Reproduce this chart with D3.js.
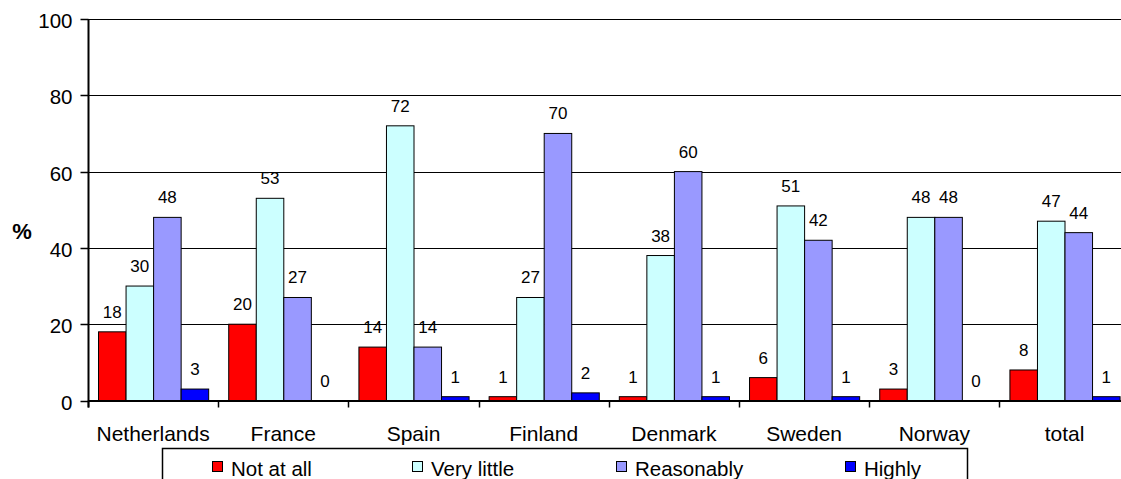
<!DOCTYPE html>
<html>
<head>
<meta charset="utf-8">
<script src="https://cdn.jsdelivr.net/npm/d3@7"></script>
<style>
  html, body { margin: 0; padding: 0; background: #fff; }
  svg { display: block; font-family: "Liberation Sans", Arial, sans-serif; }
</style>
</head>
<body>
<svg id="chart" width="1121" height="479"></svg>
<script>
// Survey answers per country, in percent
const categories = ["Netherlands", "France", "Spain", "Finland", "Denmark", "Sweden", "Norway", "total"];
const seriesNames = ["Not at all", "Very little", "Reasonably", "Highly"];
const notAtAll   = [18, 20, 14, 1, 1, 6, 3, 8];
const veryLittle = [30, 53, 72, 27, 38, 51, 48, 47];
const reasonably = [48, 27, 14, 70, 60, 42, 48, 44];
const highly     = [3, 0, 1, 2, 1, 1, 0, 1];
const yTicks = [0, 20, 40, 60, 80, 100];
const colors = ["#FF0000", "#CCFFFF", "#9999FF", "#0000FF"];

const seriesValues = [notAtAll, veryLittle, reasonably, highly];

const svg = d3.select("#chart");
const plotLeft = 88, plotRight = 1129.6, plotTop = 19, plotBottom = 400.5;

const y = d3.scaleLinear().domain([0, 100]).range([plotBottom, plotTop]);
const x0 = d3.scaleBand().domain(categories).range([plotLeft, plotRight]).paddingInner(0).paddingOuter(0);
const x1 = d3.scaleBand().domain(seriesNames).range([0, x0.bandwidth()]).paddingInner(0).paddingOuter(0.364);
const color = d3.scaleOrdinal().domain(seriesNames).range(colors);

// Horizontal gridlines
svg.append("g")
  .selectAll("line")
  .data(yTicks.filter(d => d > 0))
  .join("line")
  .attr("x1", plotLeft).attr("x2", plotRight)
  .attr("y1", d => Math.round(y(d)) + 0.5)
  .attr("y2", d => Math.round(y(d)) + 0.5)
  .attr("stroke", "#000").attr("stroke-width", 1);

// Bars
const rows = categories.map((c, i) => ({
  cat: c,
  vals: seriesNames.map((s, j) => ({ s, v: seriesValues[j][i] }))
}));

const groups = svg.append("g")
  .selectAll("g")
  .data(rows)
  .join("g")
  .attr("transform", d => `translate(${x0(d.cat)},0)`);

groups.selectAll("rect")
  .data(d => d.vals.filter(e => e.v > 0))
  .join("rect")
  .attr("x", e => x1(e.s) + 0.5)
  .attr("y", e => y(e.v))
  .attr("width", x1.bandwidth())
  .attr("height", e => y(0) - y(e.v))
  .attr("fill", e => color(e.s))
  .attr("stroke", "#000")
  .attr("stroke-width", 1);

// Value labels
groups.selectAll("text")
  .data(d => d.vals)
  .join("text")
  .attr("x", e => x1(e.s) + x1.bandwidth() / 2 + 0.5)
  .attr("y", e => y(e.v) - 14)
  .attr("text-anchor", "middle")
  .attr("font-size", 17)
  .attr("fill", "#000")
  .text(e => e.v);

// Y axis
const yAxis = svg.append("g").attr("transform", `translate(${plotLeft + 0.5},0)`);
yAxis.append("line")
  .attr("x1", 0).attr("x2", 0)
  .attr("y1", plotTop).attr("y2", plotBottom + 7)
  .attr("stroke", "#000").attr("stroke-width", 2);
yAxis.selectAll("line.tick")
  .data(yTicks)
  .join("line")
  .attr("class", "tick")
  .attr("x1", -8).attr("x2", 0)
  .attr("y1", d => Math.round(y(d)) + 0.5)
  .attr("y2", d => Math.round(y(d)) + 0.5)
  .attr("stroke", "#000").attr("stroke-width", 1.5);
yAxis.selectAll("text")
  .data(yTicks)
  .join("text")
  .attr("x", -16)
  .attr("y", d => y(d) + 9)
  .attr("text-anchor", "end")
  .attr("font-size", 20.5)
  .text(d => d);

// X axis
const xAxis = svg.append("g");
xAxis.append("line")
  .attr("x1", plotLeft).attr("x2", plotRight)
  .attr("y1", plotBottom + 0.5).attr("y2", plotBottom + 0.5)
  .attr("stroke", "#000").attr("stroke-width", 2);
xAxis.selectAll("line.tick")
  .data(categories)
  .join("line")
  .attr("class", "tick")
  .attr("x1", d => Math.round(x0(d)) + 0.5)
  .attr("x2", d => Math.round(x0(d)) + 0.5)
  .attr("y1", plotBottom).attr("y2", plotBottom + 7)
  .attr("stroke", "#000").attr("stroke-width", 1.5);
xAxis.selectAll("text")
  .data(categories)
  .join("text")
  .attr("x", d => x0(d) + x0.bandwidth() / 2)
  .attr("y", 441)
  .attr("text-anchor", "middle")
  .attr("font-size", 21)
  .text(d => d);

// Y axis title
svg.append("text")
  .attr("x", 22).attr("y", 239)
  .attr("text-anchor", "middle")
  .attr("font-size", 22)
  .attr("font-weight", "bold")
  .text("%");

// Legend
const legend = svg.append("g");
legend.append("rect")
  .attr("x", 162.5).attr("y", 448.5)
  .attr("width", 805).attr("height", 60)
  .attr("fill", "#fff").attr("stroke", "#000").attr("stroke-width", 1.5);
const legendX = [212, 412, 616, 845];
const items = legend.selectAll("g")
  .data(seriesNames)
  .join("g")
  .attr("transform", (d, i) => `translate(${legendX[i]},0)`);
items.append("rect")
  .attr("x", 0.5).attr("y", 461.5)
  .attr("width", 10).attr("height", 10)
  .attr("fill", d => color(d))
  .attr("stroke", "#000").attr("stroke-width", 1);
items.append("text")
  .attr("x", 19).attr("y", 476)
  .attr("font-size", 20.5)
  .text(d => d);
</script>
</body>
</html>
